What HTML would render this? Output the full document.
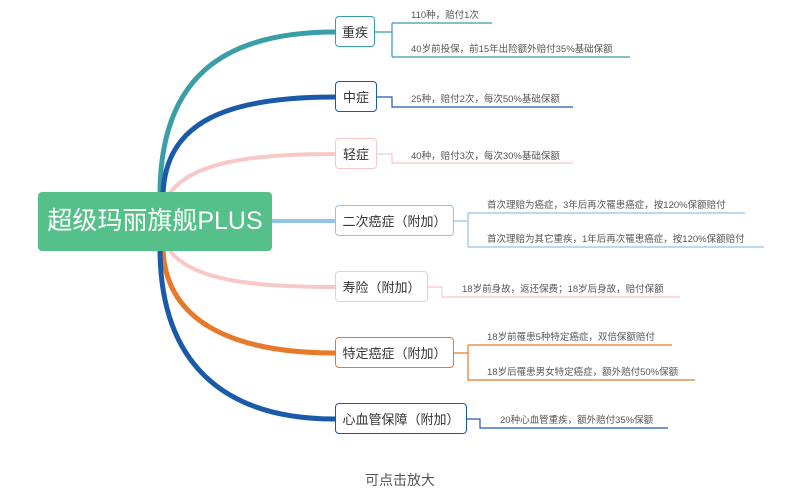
<!DOCTYPE html>
<html><head><meta charset="utf-8"><style>
body{margin:0;width:800px;height:496px;background:#fff;overflow:hidden;font-family:"Liberation Sans","Noto Sans CJK SC",sans-serif;}
.n{position:absolute;height:31px;line-height:31px;border:1.5px solid;border-radius:4px;background:#fff;font-size:13px;color:#333;text-align:center;box-sizing:border-box;}
.t{position:absolute;font-size:9.5px;color:#555;white-space:nowrap;}
</style></head><body>
<svg width="800" height="496" style="position:absolute;left:0;top:0" fill="none">
<path d="M160,195 C160,80 220,32 335,32" stroke="#3a9ea8" stroke-width="5"/>
<path d="M163,195 C165,120 230,97 335,97" stroke="#1a5aa8" stroke-width="5"/>
<path d="M168,196 C190,160 260,154 335,154" stroke="#f8c8c8" stroke-width="4"/>
<path d="M272,221 L335,221" stroke="#90c4ec" stroke-width="4"/>
<path d="M168,248 C190,282 260,287 335,287" stroke="#f8c8c8" stroke-width="4"/>
<path d="M163,248 C165,320 230,353 335,353" stroke="#e8792a" stroke-width="5"/>
<path d="M160,248 C160,360 220,419 335,419" stroke="#1a5aa8" stroke-width="5"/>
<g stroke-width="1.2">
<path d="M375,32 H392 M392,23 V57 M392,23 H492 M392,57 Q392,57 630,57" stroke="#3a9ea8"/>
<path d="M377,97 H392 V107 H573" stroke="#1a5aa8"/>
<path d="M377,154 H392 V163 H573" stroke="#f8c8c8"/>
<path d="M454,221 H468 M468,213 V247 M468,213 H745 M468,247 H764" stroke="#90c4ec"/>
<path d="M428,287 H442 V297 H680" stroke="#f8c8c8"/>
<path d="M454,353 H468 M468,345 V380 M468,345 H672 M468,380 H695" stroke="#e8792a"/>
<path d="M467,419 H480 V428 H668" stroke="#1a5aa8"/>
</g>
</svg>
<div style="position:absolute;left:38px;top:192px;width:234px;height:59px;background:#55c08a;border-radius:4px;color:#fff;font-size:25px;line-height:59px;text-align:center;">超级玛丽旗舰PLUS</div>
<div class="n" style="left:335px;top:16px;width:40px;border-color:#3a9ea8">重疾</div>
<div class="n" style="left:335px;top:81px;width:42px;border-color:#1a5aa8">中症</div>
<div class="n" style="left:335px;top:138px;width:42px;border-color:#f8c8c8">轻症</div>
<div class="n" style="left:335px;top:205px;width:119px;border-color:#90c4ec">二次癌症（附加）</div>
<div class="n" style="left:335px;top:271px;width:93px;border-color:#f8c8c8">寿险（附加）</div>
<div class="n" style="left:335px;top:337px;width:119px;border-color:#e8792a">特定癌症（附加）</div>
<div class="n" style="left:335px;top:403px;width:132px;border-color:#1a5aa8">心血管保障（附加）</div>
<div class="t" style="left:411px;top:7px">110种，赔付1次</div>
<div class="t" style="left:411px;top:41px">40岁前投保，前15年出险额外赔付35%基础保额</div>
<div class="t" style="left:411px;top:91px">25种，赔付2次，每次50%基础保额</div>
<div class="t" style="left:411px;top:148px">40种，赔付3次，每次30%基础保额</div>
<div class="t" style="left:487px;top:197px">首次理赔为癌症，3年后再次罹患癌症，按120%保额赔付</div>
<div class="t" style="left:487px;top:231px">首次理赔为其它重疾，1年后再次罹患癌症，按120%保额赔付</div>
<div class="t" style="left:462px;top:281px">18岁前身故，返还保费；18岁后身故，赔付保额</div>
<div class="t" style="left:487px;top:329px">18岁前罹患5种特定癌症，双倍保额赔付</div>
<div class="t" style="left:487px;top:364px">18岁后罹患男女特定癌症，额外赔付50%保额</div>
<div class="t" style="left:500px;top:412px">20种心血管重疾，额外赔付35%保额</div>
<div style="position:absolute;left:0;width:800px;top:470px;text-align:center;font-size:14px;color:#555">可点击放大</div>
</body></html>
